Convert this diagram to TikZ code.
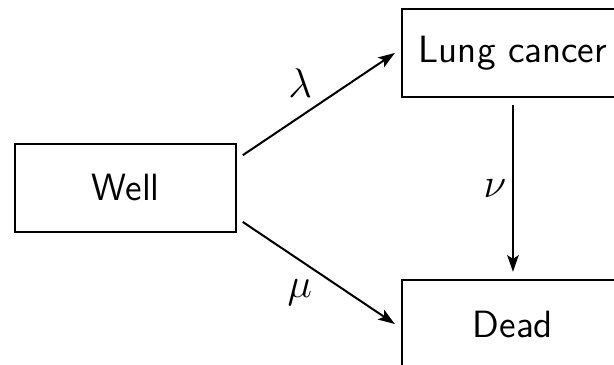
\documentclass[tikz,border=0pt]{standalone}
\usepackage{tikz}
\usetikzlibrary{arrows.meta}
\tikzset{
    statebase/.style={ % basic state box
        draw,
        line width=0.7pt,
        shape=rectangle,
        minimum width=2.7cm,
        minimum height=1.07cm,
        align=center,
        font=\sffamily\fontsize{13.2}{15}\selectfont
    },
    state/.style={ % state of the model
        statebase
    },
    trans/.style={ % transition arrow
        line width=0.7pt,
        -{Stealth[length=5.8pt,width=4pt,inset=1.3pt]}
    },
    rate/.style={ % label of a transition rate
        font=\Large,
        inner sep=2pt
    }
}

\begin{document}
\begin{tikzpicture}

        \useasboundingbox (0,0) rectangle (7.5,-4.4585);
        \clip (0,0) rectangle (7.5,-4.4585);

        \node [state] (well) at (1.533,-2.296) {Well};
        \node [state] (lung) at (6.266,-0.647) {Lung cancer};
        \node [state] (dead) at (6.266,-3.958) {Dead};

        \draw[trans] ([xshift=0.07cm,yshift=0.4cm]well.east) -- ([xshift=-0.08cm]lung.west)
                node[rate, midway, above left] {$\lambda$};
        \draw[trans] ([xshift=0.07cm,yshift=-0.415cm]well.east) -- ([xshift=-0.08cm]dead.west)
                node[rate, midway, below left] {$\mu$};
        \draw[trans] ([yshift=-0.085cm]lung.south) -- ([yshift=0.09cm]dead.north)
                node[rate, midway, left] {$\nu$};

\end{tikzpicture}
\end{document}
